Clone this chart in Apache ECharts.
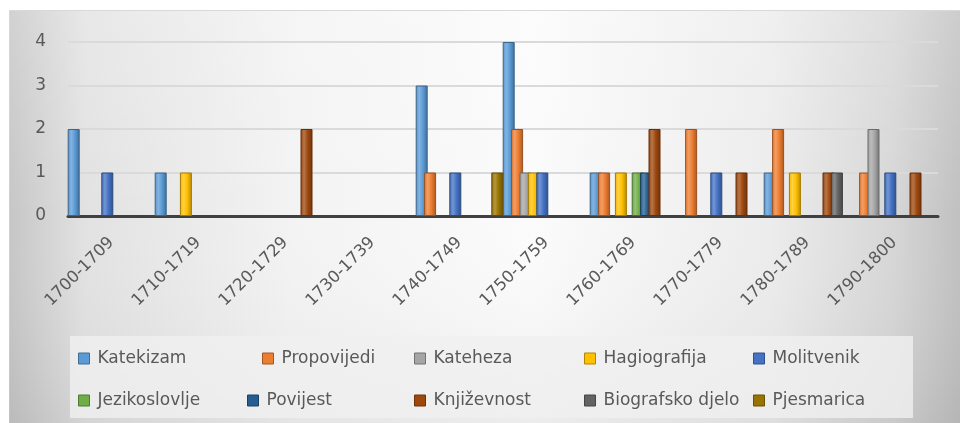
<!DOCTYPE html>
<html><head><meta charset="utf-8">
<script src="https://cdn.jsdelivr.net/npm/echarts@6/dist/echarts.min.js"></script>
<style>html,body{margin:0;padding:0;background:#fff}#c{width:960px;height:423px}</style>
</head><body><div id="c"></div>
<script>
const categories = ['1700-1709','1710-1719','1720-1729','1730-1739','1740-1749','1750-1759','1760-1769','1770-1779','1780-1789','1790-1800'];
const yTicks = [0,1,2,3,4];
const seriesNames = ['Katekizam','Propovijedi','Kateheza','Hagiografija','Molitvenik','Jezikoslovlje','Povijest','Književnost','Biografsko djelo','Pjesmarica'];
const katekizam     = [2,1,0,0,3,4,1,0,1,0];
const propovijedi   = [0,0,0,0,1,2,1,2,2,1];
const kateheza      = [0,0,0,0,0,1,0,0,0,2];
const hagiografija  = [0,1,0,0,0,1,1,0,1,0];
const molitvenik    = [1,0,0,0,1,1,0,1,0,1];
const jezikoslovlje = [0,0,0,0,0,0,1,0,0,0];
const povijest      = [0,0,0,0,0,0,1,0,0,0];
const knjizevnost   = [0,0,2,0,0,0,2,1,1,1];
const biografsko    = [0,0,0,0,0,0,0,0,1,0];
const pjesmarica    = [0,0,0,0,1,0,0,0,0,0];
const seriesValues = [katekizam,propovijedi,kateheza,hagiografija,molitvenik,jezikoslovlje,povijest,knjizevnost,biografsko,pjesmarica];

const colors = ['#5B9BD5','#ED7D31','#A5A5A5','#FFC000','#4472C4','#70AD47','#255E91','#9E480E','#636363','#997300'];

function shade(hex, f){
  const n=parseInt(hex.slice(1),16);let r=n>>16,g=(n>>8)&255,b=n&255;
  if(f>0){r=r+(255-r)*f;g=g+(255-g)*f;b=b+(255-b)*f;}else{r=r*(1+f);g=g*(1+f);b=b*(1+f);}
  return 'rgb('+Math.round(r)+','+Math.round(g)+','+Math.round(b)+')';
}
function barGrad(c){
  return {type:'linear',x:0,y:0,x2:1,y2:0,colorStops:[
    {offset:0,color:shade(c,-0.05)},{offset:0.3,color:shade(c,0.25)},
    {offset:0.6,color:c},{offset:1,color:shade(c,-0.3)}]};
}

const FONT = 'DejaVu Sans';
const legendPos = [[78,350],[262,350],[414,350],[584,350],[753,350],[78,392],[247,392],[414,392],[584,392],[753,392]];
const legends = seriesNames.map((n,i)=>({
  data:[{name:n,itemStyle:{color:colors[i],borderColor:shade(colors[i],-0.3),borderWidth:1}}],
  left:legendPos[i][0], top:legendPos[i][1], itemWidth:11, itemHeight:11,
  icon:'rect', selectedMode:false, padding:0,
  textStyle:{fontFamily:FONT,fontSize:17,color:'#595959',padding:[0,0,0,3]}
}));

const chart = echarts.init(document.getElementById('c'),null,{renderer:'canvas'});
chart.setOption({
  animation:false,
  backgroundColor:'#ffffff',
  graphic:[
    {type:'rect',left:9,top:10,z:-10,shape:{width:951,height:413},
     style:{fill:{type:'linear',x:0,y:0,x2:1,y2:0,colorStops:[
        {offset:0,color:'#c6c6c6'},{offset:0.08,color:'#e2e2e2'},{offset:0.3,color:'#f3f3f3'},
        {offset:0.55,color:'#fbfbfb'},{offset:0.8,color:'#ececec'},{offset:0.93,color:'#d6d6d6'},{offset:1,color:'#c0c0c0'}]},
       stroke:'#cfcfcf',lineWidth:1}},
    {type:'rect',left:9,top:10,z:-9,shape:{width:951,height:413},
     style:{fill:{type:'linear',x:0,y:0,x2:0,y2:1,colorStops:[
        {offset:0,color:'rgba(255,255,255,0.2)'},{offset:0.5,color:'rgba(255,255,255,0)'},{offset:1,color:'rgba(0,0,0,0.06)'}]}}},
    {type:'rect',left:70,top:336,z:-8,shape:{width:843,height:82},
     style:{fill:'rgba(240,240,240,0.8)'}}
  ],
  legend:legends,
  grid:{left:68,right:22,top:42,bottom:207,containLabel:false},
  xAxis:{type:'category',data:categories,
    axisLine:{lineStyle:{color:'#404040',width:3}},axisTick:{show:false},
    axisLabel:{rotate:45,margin:24,fontFamily:FONT,fontSize:16.5,color:'#595959',interval:0}},
  yAxis:{type:'value',min:0,max:4,interval:1,
    axisLine:{show:false},axisTick:{show:false},
    axisLabel:{margin:22,fontFamily:FONT,fontSize:17,color:'#595959',
      formatter:v=>yTicks.includes(v)?String(v):''},
    splitLine:{lineStyle:{color:'#dadada',width:2}}},
  series:seriesNames.map((n,i)=>({
    name:n,type:'bar',data:seriesValues[i].map(v=>v===0?null:v),
    barWidth:12,barGap:'-30%',
    itemStyle:{color:barGrad(colors[i]),borderColor:shade(colors[i],-0.35),borderWidth:1}
  }))
});
</script></body></html>
